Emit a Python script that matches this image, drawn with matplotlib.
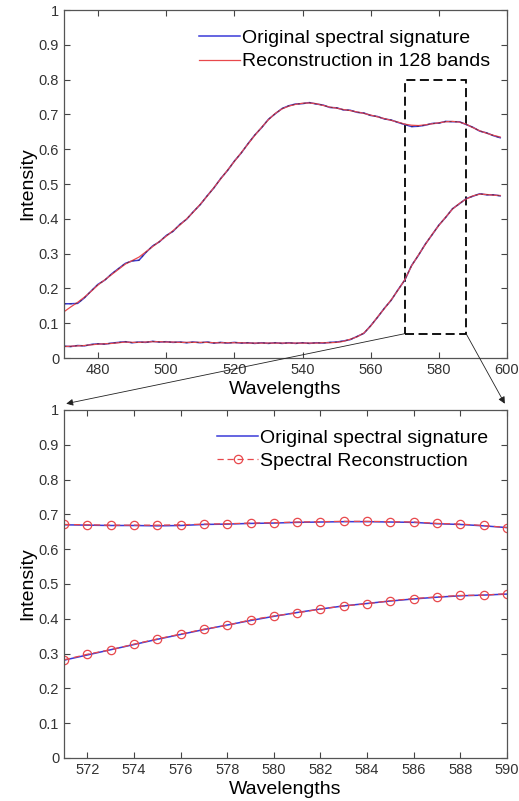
import numpy as np
import matplotlib
matplotlib.use('Agg')
import matplotlib.pyplot as plt
from matplotlib.patches import Rectangle, ConnectionPatch

plt.rcParams['font.family'] = ['Liberation Sans', 'DejaVu Sans']

BlueLine = '#3a3ad8'
RedLine = '#e8484c'

# full spectrum, 2 nm steps
wl = np.arange(470, 599, 2)
veg_rec = [0.133, 0.147, 0.160, 0.175, 0.192, 0.210, 0.225, 0.240, 0.255, 0.270,
           0.280, 0.290, 0.305, 0.320, 0.335, 0.350, 0.366, 0.382, 0.400, 0.420,
           0.442, 0.465, 0.490, 0.515, 0.540, 0.565, 0.590, 0.615, 0.640, 0.663,
           0.685, 0.703, 0.716, 0.724, 0.729, 0.732, 0.733, 0.731, 0.726, 0.721,
           0.718, 0.714, 0.711, 0.707, 0.703, 0.698, 0.693, 0.688, 0.683, 0.678,
           0.672, 0.669, 0.668, 0.670, 0.673, 0.676, 0.679, 0.680, 0.678, 0.672,
           0.662, 0.653, 0.646, 0.640, 0.635]
veg_orig = [0.156, 0.156, 0.157, 0.173, 0.193, 0.212, 0.224, 0.242, 0.257, 0.272,
            0.279, 0.281, 0.303, 0.322, 0.334, 0.352, 0.364, 0.384, 0.399, 0.421,
            0.441, 0.466, 0.489, 0.516, 0.539, 0.566, 0.589, 0.616, 0.641, 0.662,
            0.686, 0.702, 0.717, 0.725, 0.730, 0.731, 0.734, 0.730, 0.727, 0.720,
            0.719, 0.713, 0.712, 0.706, 0.704, 0.697, 0.694, 0.687, 0.684, 0.677,
            0.671, 0.665, 0.666, 0.669, 0.674, 0.675, 0.680, 0.679, 0.679, 0.671,
            0.663, 0.652, 0.647, 0.639, 0.633]
soil_rec = [0.033, 0.034, 0.035, 0.036, 0.038, 0.040, 0.041, 0.042, 0.044, 0.046,
            0.045, 0.045, 0.046, 0.047, 0.047, 0.046, 0.046, 0.045, 0.045, 0.045,
            0.045, 0.045, 0.044, 0.044, 0.044, 0.044, 0.044, 0.043, 0.043, 0.043,
            0.043, 0.043, 0.043, 0.043, 0.043, 0.043, 0.043, 0.043, 0.044, 0.044,
            0.045, 0.048, 0.054, 0.061, 0.072, 0.092, 0.118, 0.142, 0.167, 0.195,
            0.225, 0.265, 0.296, 0.326, 0.355, 0.381, 0.405, 0.428, 0.444, 0.457,
            0.466, 0.471, 0.470, 0.468, 0.467]
soil_orig = [0.034, 0.033, 0.036, 0.035, 0.039, 0.041, 0.040, 0.043, 0.045, 0.047,
             0.044, 0.046, 0.045, 0.048, 0.046, 0.047, 0.045, 0.046, 0.044, 0.046,
             0.044, 0.046, 0.043, 0.045, 0.043, 0.045, 0.043, 0.044, 0.042, 0.044,
             0.042, 0.044, 0.042, 0.044, 0.042, 0.044, 0.042, 0.044, 0.043, 0.045,
             0.046, 0.049, 0.053, 0.062, 0.071, 0.093, 0.117, 0.143, 0.166, 0.196,
             0.224, 0.266, 0.295, 0.327, 0.354, 0.382, 0.404, 0.429, 0.443, 0.458,
             0.465, 0.472, 0.469, 0.469, 0.466]

# zoomed window, 1 nm steps
wl_z = np.arange(571, 591)
veg_z_orig = [0.670, 0.669, 0.668, 0.668, 0.667, 0.668, 0.671, 0.672, 0.674, 0.675,
              0.677, 0.678, 0.679, 0.679, 0.678, 0.677, 0.673, 0.671, 0.667, 0.662]
veg_z_rec = [0.671, 0.670, 0.669, 0.669, 0.669, 0.670, 0.672, 0.673, 0.675, 0.676,
             0.678, 0.679, 0.680, 0.680, 0.679, 0.678, 0.674, 0.672, 0.668, 0.662]
soil_z_orig = [0.281, 0.296, 0.311, 0.326, 0.341, 0.355, 0.369, 0.382, 0.395, 0.407,
               0.418, 0.428, 0.437, 0.444, 0.451, 0.457, 0.462, 0.466, 0.468, 0.471]
soil_z_rec = [0.282, 0.298, 0.311, 0.327, 0.342, 0.356, 0.370, 0.381, 0.397, 0.408,
              0.417, 0.428, 0.437, 0.443, 0.452, 0.458, 0.463, 0.467, 0.468, 0.472]

yticks = np.arange(0, 1.01, 0.1)
yticklabels = ['0', '0.1', '0.2', '0.3', '0.4', '0.5', '0.6', '0.7', '0.8', '0.9', '1']


def style(ax):
    ax.set_ylim(0, 1)
    ax.set_yticks(yticks)
    ax.set_yticklabels(yticklabels)
    ax.tick_params(direction='in', top=True, right=True, length=4,
                   labelsize=10.5, labelcolor='#333333', color='#444444')
    for s in ax.spines.values():
        s.set_color('#555555')
        s.set_linewidth(0.9)
    ax.set_ylabel('Intensity', fontsize=14, labelpad=2)
    ax.set_xlabel('Wavelengths', fontsize=14, labelpad=3)


fig = plt.figure(figsize=(5.19, 8.01), dpi=100)
ax1 = fig.add_axes([0.1233, 0.553, 0.8536, 0.4345])
ax2 = fig.add_axes([0.1233, 0.0537, 0.8536, 0.4345])

ax1.plot(wl, veg_orig, color=BlueLine, lw=1.1, label='Original spectral signature')
ax1.plot(wl, veg_rec, color=RedLine, lw=0.9, label='Reconstruction in 128 bands')
ax1.plot(wl, soil_orig, color=BlueLine, lw=1.1)
ax1.plot(wl, soil_rec, color=RedLine, lw=0.9)
ax1.plot(wl, veg_orig, color='#302040', lw=0.8, ls=(0, (2, 3)), alpha=0.6)
ax1.plot(wl, soil_orig, color='#302040', lw=0.8, ls=(0, (2, 3)), alpha=0.6)
ax1.set_xlim(470, 600)
ax1.set_xticks(np.arange(480, 601, 20))
style(ax1)
ax1.legend(loc='upper left', bbox_to_anchor=(0.265, 0.995), frameon=False,
           fontsize=14, handlelength=2.1, handletextpad=0.1, labelspacing=0.3)

ax1.add_patch(Rectangle((570, 0.07), 18, 0.73, fill=False, ec='black',
                        lw=1.3, ls=(0, (5, 2.5))))

ax2.plot(wl_z, veg_z_orig, color=BlueLine, lw=1.1, label='Original spectral signature')
ax2.plot(wl_z, veg_z_rec, color=RedLine, lw=0.9, ls=(0, (5, 3)), marker='o', ms=6,
         mfc='none', mec=RedLine, mew=0.9, label='Spectral Reconstruction')
ax2.plot(wl_z, soil_z_orig, color=BlueLine, lw=1.1)
ax2.plot(wl_z, soil_z_rec, color=RedLine, lw=0.9, ls=(0, (5, 3)), marker='o', ms=6,
         mfc='none', mec=RedLine, mew=0.9)
ax2.set_xlim(571, 590)
ax2.set_xticks(np.arange(572, 591, 2))
style(ax2)
ax2.legend(loc='upper left', bbox_to_anchor=(0.307, 0.995), frameon=False,
           fontsize=14, handlelength=2.1, handletextpad=0.1, labelspacing=0.3)

# zoom arrows
for xa, xb in [(570, 0.005), (588, 0.995)]:
    con = ConnectionPatch(xyA=(xa, 0.07), coordsA=ax1.transData,
                          xyB=(xb, 1.018), coordsB=ax2.transAxes,
                          arrowstyle='-|>', mutation_scale=10, lw=0.6,
                          color='#222222')
    fig.add_artist(con)

plt.savefig('out.png', dpi=100)
